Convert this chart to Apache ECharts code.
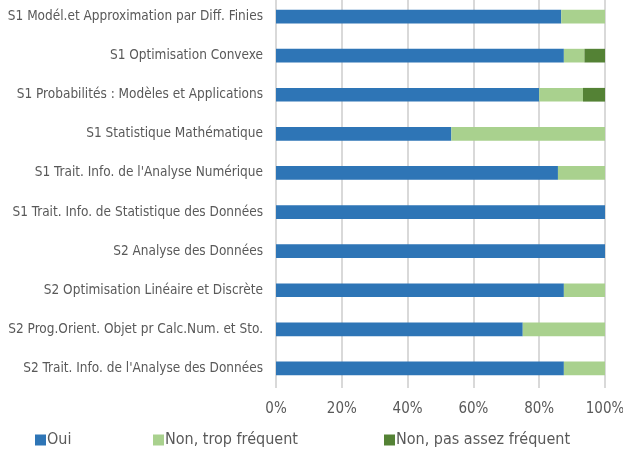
<!DOCTYPE html>
<html>
<head>
<meta charset="utf-8">
<script src="https://cdn.jsdelivr.net/npm/echarts@6/dist/echarts.min.js"></script>
<style>
  html, body { margin: 0; padding: 0; background: #fff; }
  #chart { width: 623px; height: 455px; }
</style>
</head>
<body>
<div id="chart"></div>
<script>
// categories, top to bottom
const courses = [
    'S1 Modél.et Approximation par Diff. Finies',
    'S1 Optimisation Convexe',
    'S1 Probabilités : Modèles et Applications',
    'S1 Statistique Mathématique',
    "S1 Trait. Info. de l'Analyse Numérique",
    'S1 Trait. Info. de Statistique des Données',
    'S2 Analyse des Données',
    'S2 Optimisation Linéaire et Discrète',
    'S2 Prog.Orient. Objet pr Calc.Num. et Sto.',
    "S2 Trait. Info. de l'Analyse des Données"
];

// percentages
const oui = [86.7, 87.5, 80.0, 53.3, 85.7, 100, 100, 87.5, 75.0, 87.5];
const tropFrequent = [13.3, 6.25, 13.3, 46.7, 14.3, 0, 0, 12.5, 25.0, 12.5];
const pasAssez = [0, 6.25, 6.7, 0, 0, 0, 0, 0, 0, 0];

const seriesNames = ['Oui', 'Non, trop fréquent', 'Non, pas assez fréquent'];
const colors = ['#2E75B6', '#A9D18E', '#548235'];

const FONT = '"DejaVu Sans Condensed", "DejaVu Sans"';

const chart = echarts.init(document.getElementById('chart'));

function bar(name, data, color) {
    return {
        name: name,
        type: 'bar',
        stack: 'total',
        barWidth: '35%',
        data: data,
        itemStyle: { color: color },
        emphasis: { disabled: true }
    };
}

// one legend per entry so each sits where the original put it
const legendLeft = [30, 148, 379];
const legends = seriesNames.map((n, i) => ({
    data: [n],
    left: legendLeft[i],
    top: 427,
    itemWidth: 11,
    itemHeight: 11,
    itemGap: 0,
    icon: 'rect',
    textStyle: { color: '#595959', fontSize: 16, fontFamily: FONT, padding: [0, 0, 0, -4] }
}));

chart.setOption({
    animation: false,
    color: colors,
    legend: legends,
    grid: { left: 276, right: 18, top: -3, bottom: 67, containLabel: false, outerBoundsMode: 'none' },
    xAxis: {
        type: 'value',
        min: 0,
        max: 100,
        interval: 20,
        axisLine: { show: false },
        axisTick: { show: false },
        axisLabel: { formatter: '{value}%', color: '#595959', fontSize: 15, fontFamily: FONT, margin: 14 },
        splitLine: { show: true, lineStyle: { color: '#d9d9d9', width: 2 } }
    },
    yAxis: {
        type: 'category',
        inverse: true,
        data: courses,
        axisLine: { show: false },
        axisTick: { show: false },
        splitLine: { show: false },
        axisLabel: { color: '#595959', fontSize: 13.5, fontFamily: FONT, margin: 13 }
    },
    series: [
        bar(seriesNames[0], oui, colors[0]),
        bar(seriesNames[1], tropFrequent, colors[1]),
        bar(seriesNames[2], pasAssez, colors[2])
    ]
});
</script>
</body>
</html>
